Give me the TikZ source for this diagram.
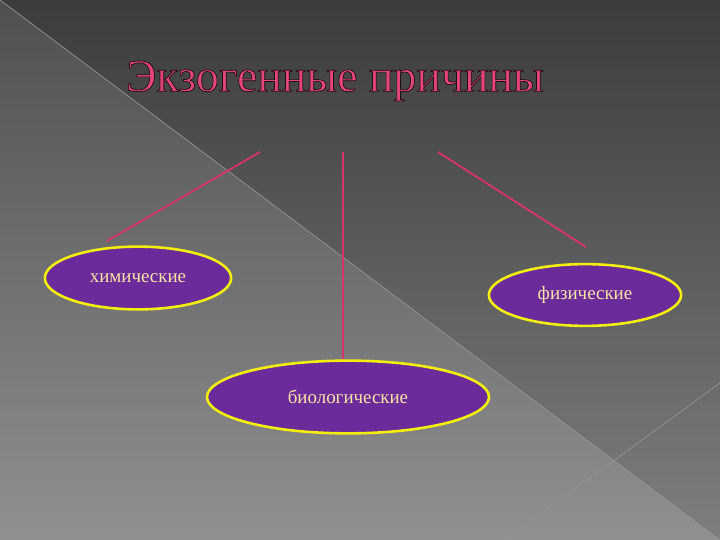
\documentclass[tikz,border=0pt]{standalone}
\usepackage{fontspec}
\setmainfont{Liberation Serif}
\definecolor{bgtop}{HTML}{3C3C3C}
\definecolor{bgbot}{HTML}{8A8A8A}
\definecolor{linkred}{HTML}{D8336F}
\definecolor{titlepink}{HTML}{E5457F}
\definecolor{ovalfill}{HTML}{6B2B9B}
\definecolor{ovalline}{HTML}{F2EE10}
\definecolor{ovaltext}{HTML}{FAE3A6}
% dark edge round the letters of the title
\newcommand{\edgedtext}[1]{\special{pdf:literal direct 2 Tr 0.7 w 0.12 0.05 0.08 RG}#1\special{pdf:literal direct 0 Tr}}
\tikzset{
  oval/.style={ellipse, draw=ovalline, line width=2.6pt, fill=ovalfill,
    text=ovaltext, inner sep=0pt, font=\fontsize{19}{22}\selectfont},
  link/.style={draw=linkred, line width=1.8pt}
}
\usetikzlibrary{shapes.geometric}
\begin{document}
\begin{tikzpicture}[x=1bp,y=-1bp]
      \useasboundingbox (0,0) rectangle (720,540);
      \shade[top color=bgtop, bottom color=bgbot!85!bgtop] (0,0) rectangle (720,540);
      \shade[top color=bgtop!75!bgbot, bottom color=bgbot!95!white]
        (0,0) -- (720,540) -- (0,540) -- cycle;
      \draw[gray!85, line width=0.7pt] (0,0) -- (720,540);
      \draw[gray!85, line width=0.7pt] (505,540) -- (720,383);
      \node[text=titlepink, font=\fontsize{46}{52}\selectfont] (title) at (335,81)
        {\edgedtext{Экзогенные причины}};
      \draw
        (138,278) node[oval, minimum width=187, minimum height=63] (chem){химические}
        (585,295) node[oval, minimum width=193, minimum height=62] (phys){физические}
        (348,397) node[oval, minimum width=283, minimum height=73] (bio){биологические};
      \coordinate (l1) at (260,152);
      \coordinate (l2) at (107,241);
      \coordinate (m1) at (343,152);
      \coordinate (r1) at (438,152);
      \coordinate (r2) at (586,247);
      \begin{scope}[link]
        \draw (l1) to (l2);
        \draw (m1) to (m1 |- bio.north);
        \draw (r1) to (r2);
      \end{scope}
    \end{tikzpicture}
\end{document}
